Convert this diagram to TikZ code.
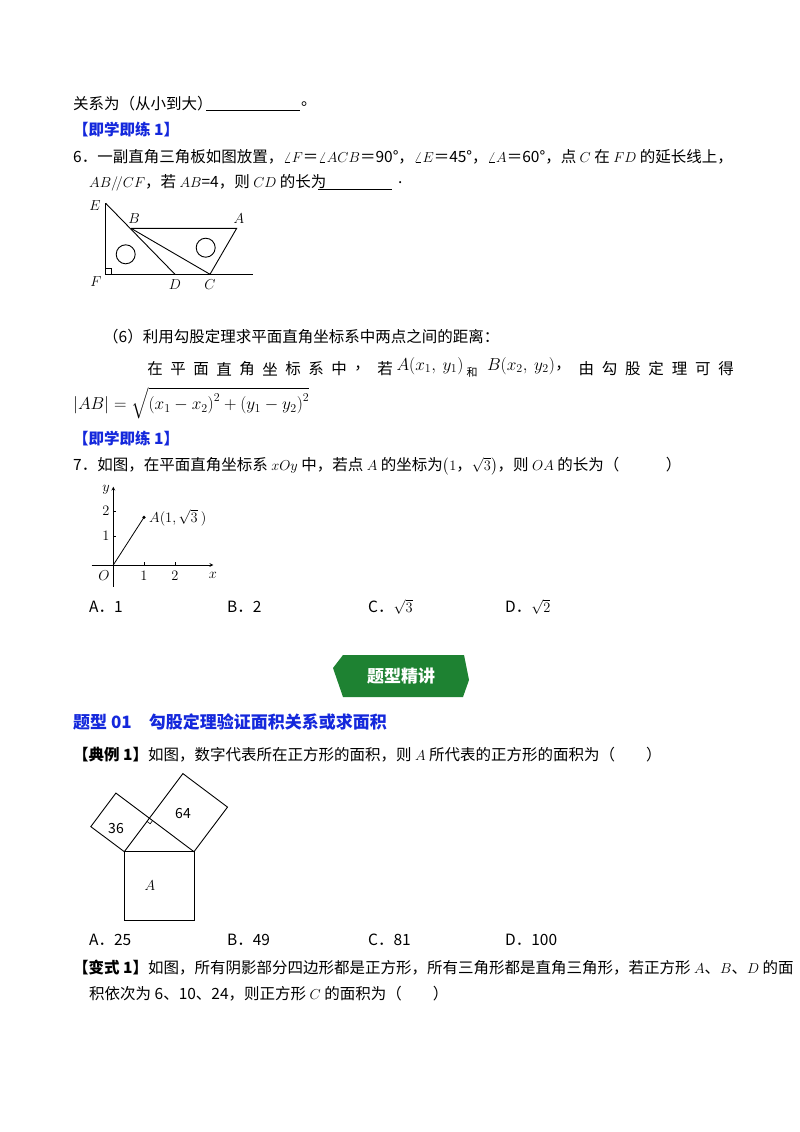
\documentclass[tikz,border=0pt]{standalone}
\usepackage{fontspec}
\usepackage{amsmath}
\setmainfont{Noto Sans CJK SC}
\usetikzlibrary{calc}
\definecolor{qblue}{RGB}{20,40,220}
\definecolor{bgreen}{RGB}{30,130,50}
\tikzset{txt/.style={anchor=west,inner sep=0pt,font=\fontsize{15.5}{18}\selectfont},
fig/.style={line width=0.9pt},
lab/.style={inner sep=0pt,font=\fontsize{14}{16}\selectfont}}
\begin{document}
\begin{tikzpicture}[x=1pt,y=-1pt]
\useasboundingbox[fill=white] (0,0) rectangle (800,1132);
% top
\node[txt] (t1) at (73,104) {关系为（从小到大）};
\draw[line width=0.9pt] (206,110) -- (300,110);
\node[txt] (t1b) at (301,104) {。};
\node[txt,text=qblue,font=\fontsize{15.5}{18}\selectfont\bfseries] (h1) at (73,130) {【即学即练 1】};
\node[txt] (q6) at (73,157) {6．一副直角三角板如图放置，$\angle F$＝$\angle ACB$＝90°，$\angle E$＝45°，$\angle A$＝60°，点 $C$ 在 $FD$ 的延长线上，};
\node[txt] (q6b) at (89,183) {$AB/\!/CF$，若 $AB$=4，则 $CD$ 的长为};
\draw[line width=0.9pt] (318,189) -- (392,189);
\node[txt] (q6c) at (398,183) {.};
% triangle figure
\coordinate (E) at (105.7,203.3);
\coordinate (F) at (105.7,274.3);
\coordinate (G) at (253,274.3);
\coordinate (B) at (131,228.3);
\coordinate (A) at (236.7,228.3);
\coordinate (C) at (210,274.3);
\coordinate (D) at (175,274.3);
\draw[fig] (E) -- (F) -- (G);
\draw[fig] (E) -- (D);
\draw[fig] (B) -- (A) -- (C) -- (B);
\draw[fig] (125.7,254.3) circle (9.5);
\draw[fig] (205.7,247.7) circle (9.5);
\draw[line width=0.7pt] (105.7,268.3) -- (111.7,268.3) -- (111.7,274.3);
\node[lab] (lE) at (95,206) {$E$};
\node[lab] (lB) at (134,219) {$B$};
\node[lab] (lA) at (239,219) {$A$};
\node[lab] (lF) at (96,282) {$F$};
\node[lab] (lD) at (175,285) {$D$};
\node[lab] (lC) at (210,285) {$C$};
% (6)
\node[txt] (s6) at (103,337) {（6）利用勾股定理求平面直角坐标系中两点之间的距离：};
\foreach \c [count=\i] in {在,平,面,直,角,坐,标,系,中,，,若} {\node[lab,font=\fontsize{15.5}{18}\selectfont] at (155+\i*23-23,369) {\c};}
\node[inner sep=0pt,font=\fontsize{17}{18}\selectfont] (ax) at (430,366) {$A\!\left(x_1,\ y_1\right)$};
\node[inner sep=0pt,font=\fontsize{11}{12}\selectfont] (he) at (472,372) {和};
\node[inner sep=0pt,font=\fontsize{17}{18}\selectfont] (bx) at (521,366) {$B\!\left(x_2,\ y_2\right)$};
\foreach \c [count=\i] in {，,由,勾,股,定,理,可,得} {\node[lab,font=\fontsize{15.5}{18}\selectfont] at (563+\i*23.3-23.3,369) {\c};}
\node[txt,font=\fontsize{17.5}{20}\selectfont] (fm) at (73,403) {$\left|AB\right|=\sqrt{\left(x_1-x_2\right)^2+\left(y_1-y_2\right)^2}$};
\node[txt,text=qblue,font=\fontsize{15.5}{18}\selectfont\bfseries] (h2) at (73,438) {【即学即练 1】};
\node[txt] (q7) at (73,466) {7．如图，在平面直角坐标系 $xOy$ 中，若点 $A$ 的坐标为$\bigl(1$，$\sqrt{3}\bigr)$，则 $OA$ 的长为（　　　）};
% coordinate plot
\coordinate (O) at (113.3,565);
\coordinate (PA) at (144,517.3);
\draw[line width=0.7pt,-stealth] (91.7,565) -- (213.3,565);
\draw[line width=0.7pt,-stealth] (113.3,586.7) -- (113.3,486.7);
\draw[line width=0.7pt] (144,565) -- (144,562) (175,565) -- (175,562) (113.3,536) -- (116.3,536) (113.3,511) -- (116.3,511);
\draw[line width=0.8pt] (O) -- (PA);
\fill (PA) circle (1.8);
\node[lab,anchor=west] (nA) at (149,518) {$A(1,\sqrt{3}\ )$};
\node[lab] (ny) at (106,490) {$y$};
\node[lab] (n2) at (106,511) {$2$};
\node[lab] (n1) at (106,536) {$1$};
\node[lab] (nO) at (104,576) {$O$};
\node[lab] (nx1) at (144,576) {$1$};
\node[lab] (nx2) at (175,576) {$2$};
\node[lab] (nx) at (213,575) {$x$};
\node[txt] (c1) at (89,607) {A．1};
\node[txt] (c2) at (227,607) {B．2};
\node[txt] (c3) at (368,607) {C．$\sqrt{3}$};
\node[txt] (c4) at (505,607) {D．$\sqrt{2}$};
% banner
\fill[bgreen] (343,655) -- (464,655) -- (469,680) -- (463,697) -- (343,697) -- (333,668) -- cycle;
\node[inner sep=0pt,text=white,font=\fontsize{17}{19}\selectfont\bfseries] (bn) at (401,676) {题型精讲};
\node[txt,text=qblue,font=\fontsize{17}{19}\selectfont\bfseries] (tt) at (73,722) {题型 01\quad 勾股定理验证面积关系或求面积};
\node[txt] (d1) at (73,755) {\textbf{【典例 1】}如图，数字代表所在正方形的面积，则 $A$ 所代表的正方形的面积为（　　）};
% squares
\coordinate (L) at (124.3,851.7);
\coordinate (R) at (194,851.7);
\coordinate (P) at (149.4,818.2);
\draw[fig] (L) rectangle (194,920);
\draw[fig] (L) -- (90.8,826.6) -- (115.9,793.1) -- (P) -- cycle;
\draw[fig] (P) -- (182.9,773.6) -- (227.5,807.1) -- (R) -- cycle;
\draw[line width=0.6pt] ($(P)!4pt!(L)$) -- ($(P)!4pt!(L)+(P)!4pt!(R)-(P)$) -- ($(P)!4pt!(R)$);
\node[lab] (s36) at (116,828) {36};
\node[lab] (s64) at (183,813) {64};
\node[lab] (sA) at (150,886) {$A$};
\node[txt] (e1) at (89,940) {A．25};
\node[txt] (e2) at (227,940) {B．49};
\node[txt] (e3) at (368,940) {C．81};
\node[txt] (e4) at (505,940) {D．100};
\node[txt] (v1) at (73,968) {\textbf{【变式 1】}如图，所有阴影部分四边形都是正方形，所有三角形都是直角三角形，若正方形 $A$、$B$、$D$ 的面};
\node[txt] (v2) at (89,994) {积依次为 6、10、24，则正方形 $C$ 的面积为（　　）};
\end{tikzpicture}
\end{document}
